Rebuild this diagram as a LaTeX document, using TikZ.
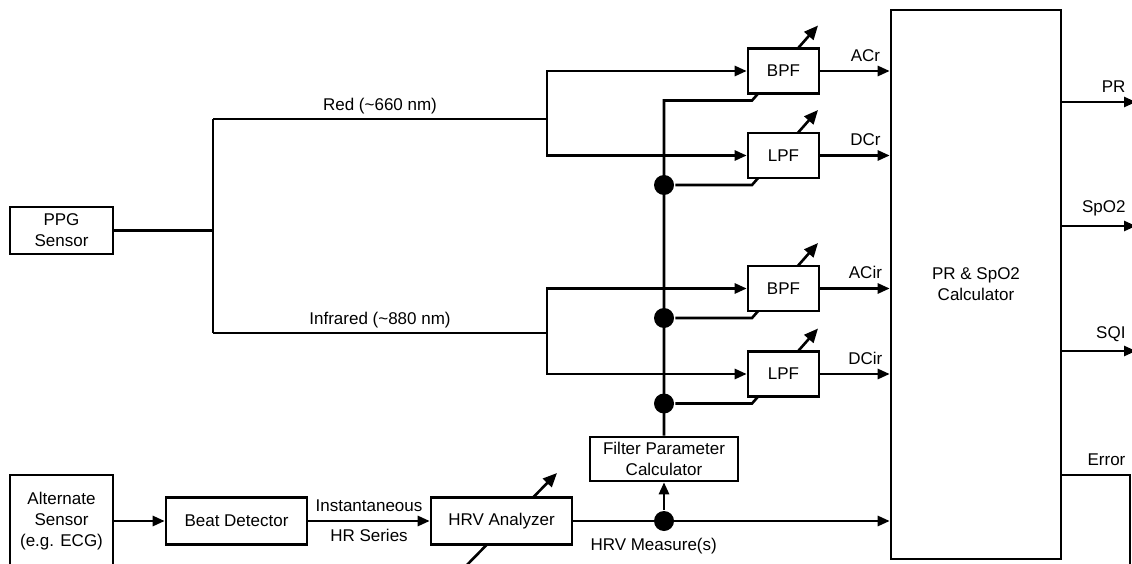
\documentclass[tikz,border=0pt]{standalone}
\usepackage{fontspec}
\setmainfont{Liberation Sans}
\usetikzlibrary{arrows.meta,backgrounds}

\begin{document}
\begin{tikzpicture}[x=1pt,y=-1pt,>={Triangle[length=12pt,width=10pt]},
  line width=2.6pt,font=\fontsize{17}{21}\selectfont,
  block/.style={draw,fill=white,inner sep=0pt,align=center},
  filter/.style={block,minimum width=71pt,minimum height=45pt},
  dot/.style={circle,fill,inner sep=0pt,minimum size=20pt},
  tune/.style={line width=2.6pt,-{Triangle[length=14pt,width=12pt]}},
  siglbl/.style={pos=0.65,above,yshift=5pt},
  outlbl/.style={anchor=south east,yshift=5pt}]

  \useasboundingbox (0,0) rectangle (1132,564);

  % sensors and the HRV chain
  \node[block,minimum width=103pt,minimum height=47pt] (ppg) at (61.5,230.5) {PPG\\Sensor};
  \node[block,minimum width=103pt,minimum height=92pt] (alt) at (61.5,521) {Alternate\\Sensor\\(e.g. ECG)};
  \node[block,minimum width=141pt,minimum height=47pt] (beat) at (236.5,521) {Beat Detector};
  \node[block,minimum width=141pt,minimum height=47pt] (hrv) at (501.5,521) {HRV Analyzer};
  \node[block,minimum width=148pt,minimum height=44pt] (fpc) at (664,459) {Filter Parameter\\Calculator};

  % filters
  \node[filter] (bpfr) at (783.5,71) {BPF};
  \node[filter] (lpfr) at (783.5,155.5) {LPF};
  \node[filter] (bpfi) at (783.5,288.5) {BPF};
  \node[filter] (lpfi) at (783.5,374) {LPF};

  \node[block,minimum width=170pt,minimum height=549pt] (calc) at (976,284.5) {PR \& SpO2\\Calculator};

  % junctions
  \node[dot] (d1) at (664,185) {};
  \node[dot] (d2) at (664,318) {};
  \node[dot] (d3) at (664,403.5) {};
  \node[dot] (dh) at (664,521) {};

  \coordinate (sp) at (213,230.5);
  \coordinate (sr) at (547,119);
  \coordinate (si) at (547,333);
  \coordinate (ptop) at (664,100.5);
  \coordinate (hin) at (462,570);
  \coordinate (hout) at (557,473);
  \coordinate (pr) at (1136,102);
  \coordinate (spo) at (1136,226);
  \coordinate (sqi) at (1136,351);
  \coordinate (err) at (1130,475);
  \coordinate (errend) at (1130,570);

  % tuning arrows through the boxes
  \begin{scope}[on background layer={line width=2.6pt}]
    \draw[tune] (fpc.north) -- (ptop) -- ++(88,0) -- ++(66,-75);
    \draw[tune] (d1) -- ++(88,0) -- ++(66,-75);
    \draw[tune] (d2) -- ++(88,0) -- ++(66,-75);
    \draw[tune] (d3) -- ++(88,0) -- ++(66,-75);
    \draw[tune] (hin) -- (hout);
  \end{scope}

  \draw (ppg.east) -- (sp);
  \draw (sp |- sr) -- (sp |- si);
  \draw (sp |- sr) -- node[above]{Red (\textasciitilde660 nm)} (sr);
  \draw (sp |- si) -- node[above]{Infrared (\textasciitilde880 nm)} (si);
  \draw[->] (sr) |- (bpfr);
  \draw[->] (sr) |- (lpfr);
  \draw[->] (si) |- (bpfi);
  \draw[->] (si) |- (lpfi);

  \path[->]
    (bpfr) edge node[siglbl]{ACr} (bpfr -| calc.west)
    (lpfr) edge node[siglbl]{DCr} (lpfr -| calc.west)
    (bpfi) edge node[siglbl]{ACir} (bpfi -| calc.west)
    (lpfi) edge node[siglbl]{DCir} (lpfi -| calc.west)
    (alt) edge (beat)
    (beat) edge node[above,yshift=5pt]{Instantaneous} node[below,yshift=-4pt]{HR Series} (hrv)
    (hrv) edge node[pos=0.254,below,yshift=-13pt]{HRV Measure(s)} (hrv -| calc.west)
    (dh) edge (fpc.south);

  % outputs
  \path[->]
    (calc.east |- pr) edge node[pos=0.92,outlbl]{PR} (pr)
    (calc.east |- spo) edge node[pos=0.92,outlbl]{SpO2} (spo)
    (calc.east |- sqi) edge node[pos=0.92,outlbl]{SQI} (sqi);
  \draw (calc.east |- err) -- node[pos=1,outlbl]{Error} (err) -- (errend);
\end{tikzpicture}
\end{document}
